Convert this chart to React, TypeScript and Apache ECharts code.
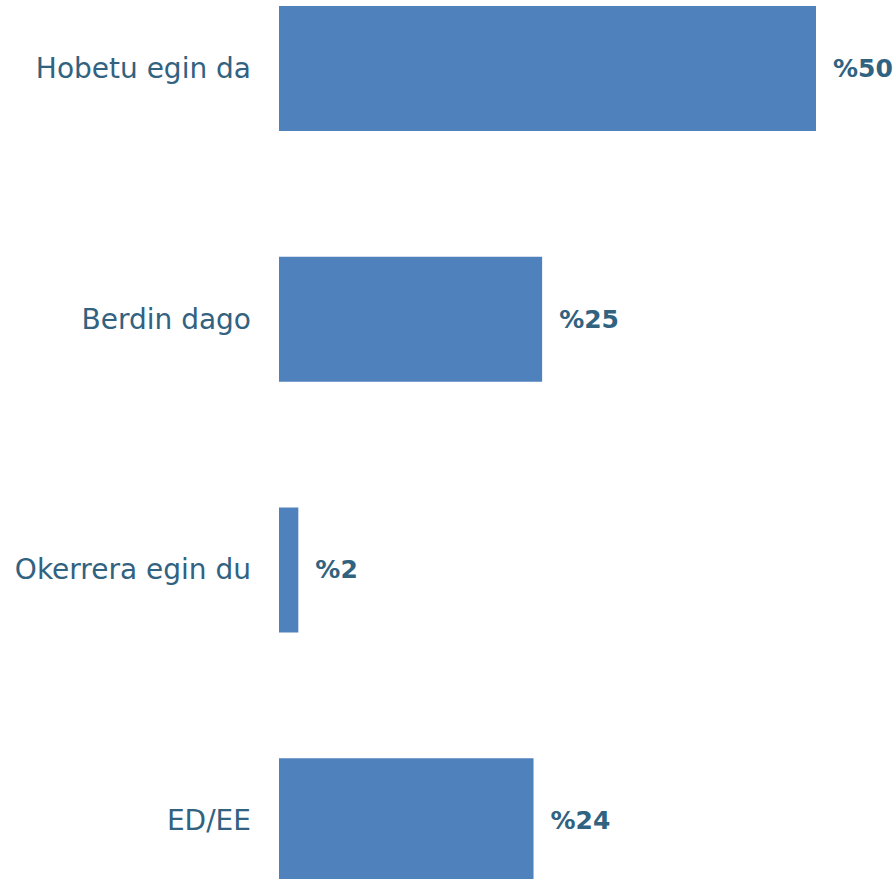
import React, { useEffect, useRef } from "react";
import * as echarts from "echarts";

const categories = ["Hobetu egin da", "Berdin dago", "Okerrera egin du", "ED/EE"];
const values = [50, 24.5, 1.8, 23.7];
const labels = ["%50", "%25", "%2", "%24"];

export default function App() {
  const ref = useRef<HTMLDivElement>(null);
  useEffect(() => {
    if (!ref.current) return;
    const chart = echarts.init(ref.current, null, { renderer: "svg" });
    chart.setOption({
      animation: false,
      grid: { left: 279, right: 79, top: 0, bottom: 0, containLabel: false },
      xAxis: {
        type: "value",
        min: 0,
        max: 50,
        show: false,
      },
      yAxis: {
        type: "category",
        data: categories,
        inverse: true,
        axisLine: { show: false },
        axisTick: { show: false },
        axisLabel: {
          margin: 28,
          color: "#31627f",
          fontSize: 28,
          fontFamily: "DejaVu Sans",
        },
      },
      series: [
        {
          type: "bar",
          data: values,
          barWidth: 125,
          itemStyle: { color: "#4f81bd" },
          label: {
            show: true,
            position: "right",
            distance: 17,
            color: "#31627f",
            fontSize: 25,
            fontWeight: "bold",
            fontFamily: "DejaVu Sans",
            formatter: (p: any) => labels[p.dataIndex],
          },
        },
      ],
    });
    return () => chart.dispose();
  }, []);
  return (
    <div
      style={{
        width: 895,
        height: 879,
        overflow: "hidden",
        position: "fixed",
        left: 0,
        top: 0,
        background: "#fff",
      }}
    >
      <div ref={ref} style={{ width: 895, height: 1003, position: "absolute", left: 0, top: -57 }} />
    </div>
  );
}
